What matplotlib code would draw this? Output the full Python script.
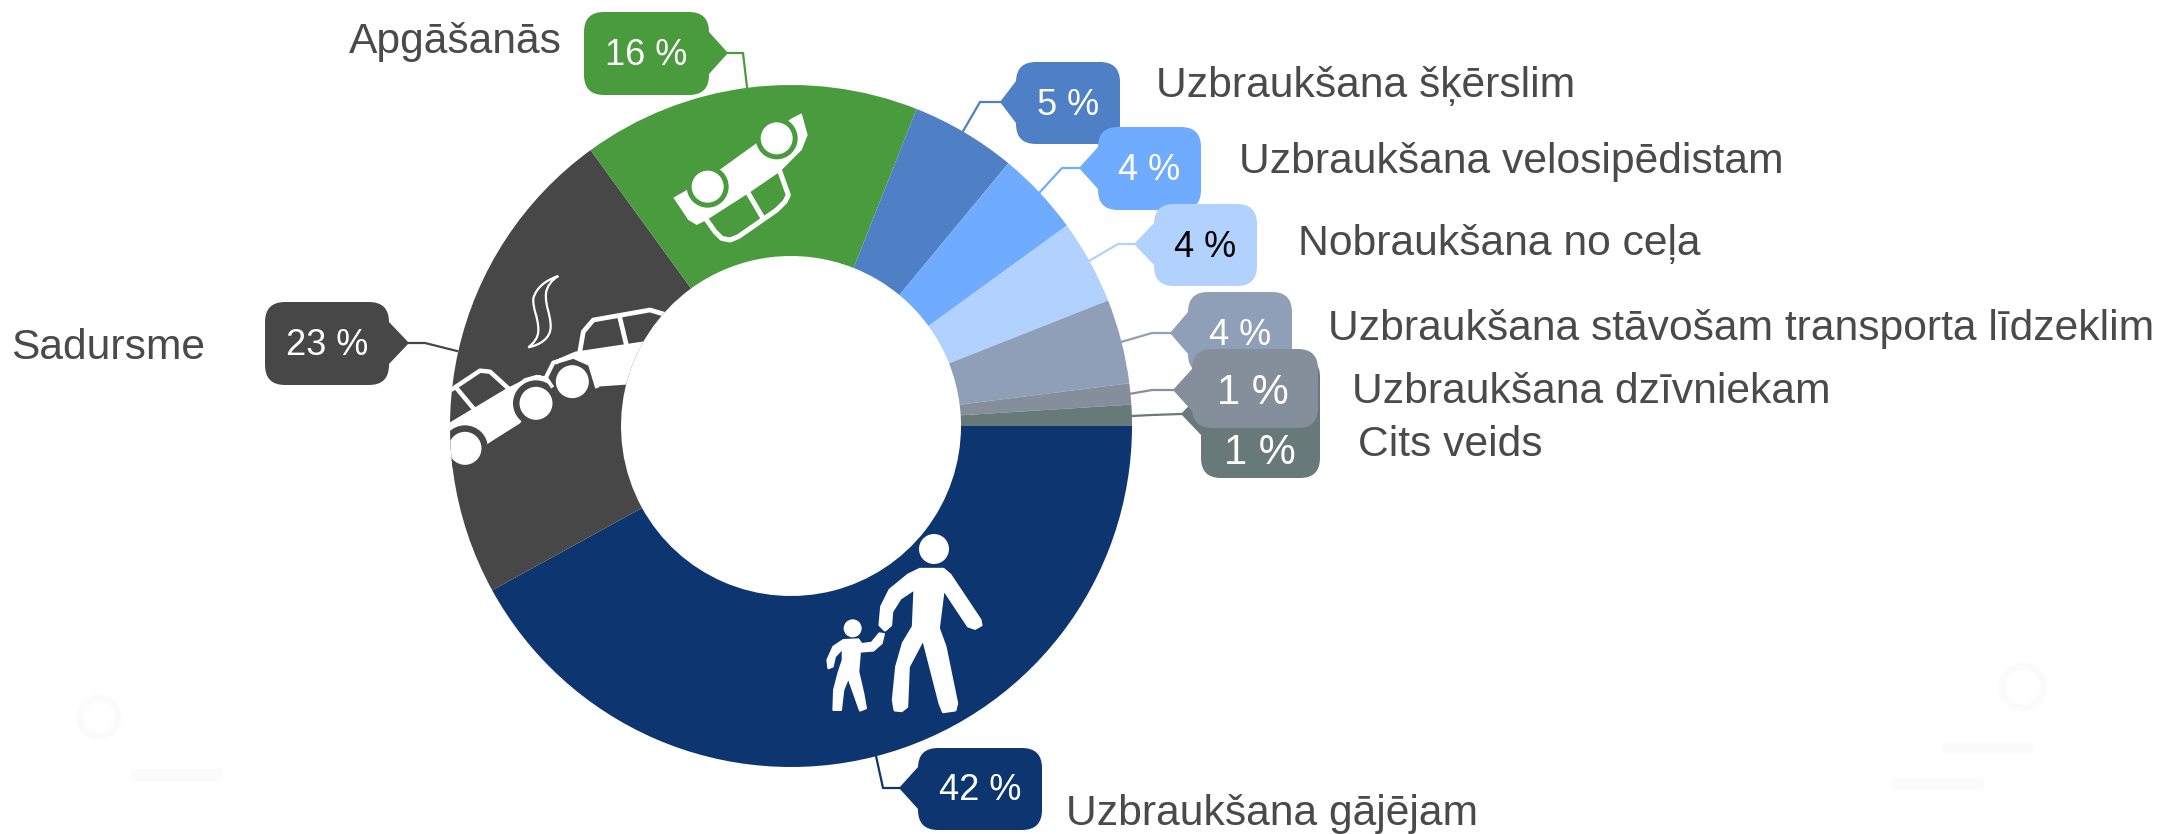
import matplotlib
matplotlib.use("Agg")
import matplotlib.pyplot as plt
from matplotlib.patches import Circle, FancyBboxPatch, PathPatch, Polygon, Rectangle
from matplotlib.path import Path

plt.rcParams["font.family"] = ["Liberation Sans", "DejaVu Sans"]

# chart data
categories = ["Uzbraukšana gājējam", "Sadursme", "Apgāšanās", "Uzbraukšana šķērslim",
              "Uzbraukšana velosipēdistam", "Nobraukšana no ceļa",
              "Uzbraukšana stāvošam transporta līdzeklim", "Uzbraukšana dzīvniekam", "Cits veids"]
values = [42, 23, 16, 5, 4, 4, 4, 1, 1]
colors = ["#0d3570", "#474747", "#4a9a3e", "#4f80c6", "#6fabff", "#b1d1ff", "#8f9fb8", "#858e9b", "#68797a"]
pct_colors = ["white", "white", "white", "white", "white", "black", "white", "white", "white"]

W, H = 2164, 834
CX, CY, R_OUT, R_IN = 791, 426, 341, 170

# layout in image pixels: box x0, x1, y0, y1, tip x, tip y, then the leader points
callouts = [
    (918, 1042, 748, 830, 899, 788, [(883, 788), (876, 756)]),
    (265, 389, 302, 385, 409, 343, [(425, 343), (457, 351)]),
    (584, 709, 12, 95, 728, 53, [(743, 53), (747, 87)]),
    (1016, 1120, 62, 144, 1000, 102, [(980, 102), (962, 133)]),
    (1098, 1201, 127, 210, 1079, 168, [(1062, 168), (1040, 192)]),
    (1154, 1257, 204, 286, 1134, 244, [(1118, 244), (1089, 261)]),
    (1188, 1292, 292, 374, 1170, 333, [(1152, 333), (1121, 342)]),
    (1192, 1318, 349, 428, 1173, 390, [(1152, 390), (1129, 394)]),
    (1201, 1320, 357, 478, 1181, 414, [(1152, 415), (1132, 416)]),
]
label_pos = [(1066, 814), (11, 348), (349, 42), (1156, 86), (1239, 162),
             (1298, 244), (1328, 329), (1352, 392), (1358, 445)]
draw_order = [0, 1, 2, 3, 4, 5, 6, 8, 7]


def flip(p):
    return [(x, H - y) for x, y in p]


def zoomed(p, x0, y0):
    return [(x0 + zx / 3, H - (y0 + zy / 3)) for zx, zy in p]


def zoom_xy(zx, zy, x0, y0):
    return x0 + zx / 3, H - (y0 + zy / 3)


fig = plt.figure(figsize=(W / 100, H / 100), dpi=100, facecolor="white")
ax = fig.add_axes([0, 0, 1, 1])

wedges, _ = ax.pie(values, colors=colors, startangle=0, counterclock=False,
                   center=(CX, H - CY), radius=R_OUT,
                   wedgeprops={"width": R_OUT - R_IN, "linewidth": 0})
ax.set_xlim(0, W)
ax.set_ylim(0, H)
ax.set_aspect("equal")
ax.axis("off")

# faint leftovers near the corners
ghost = "#fbfbfb"
ax.add_patch(Circle((99, H - 717), 19, fc="none", ec=ghost, lw=5))
ax.add_patch(Circle((2023, H - 687), 21, fc="none", ec=ghost, lw=5))
for x0, x1, y0, y1 in [(131, 223, 769, 781), (1942, 2033, 742, 753), (1892, 1983, 778, 790)]:
    ax.add_patch(Rectangle((x0, H - y1), x1 - x0, y1 - y0, fc=ghost, ec="none"))

# pedestrians
NAVY, DARK, GREEN = colors[0], colors[1], colors[2]
px, py = 780, 500
adult = [(420, 208), (490, 208), (510, 225), (600, 360), (603, 375), (585, 385), (565, 378), (490, 265),
         (475, 385), (495, 440), (530, 610), (525, 630), (490, 635), (480, 610), (430, 415), (385, 500),
         (380, 620), (365, 632), (345, 630), (340, 600), (350, 500), (370, 430), (400, 380), (405, 265),
         (360, 295), (335, 335), (332, 375), (315, 390), (300, 375), (305, 320), (330, 270), (385, 225)]
child = [(190, 420), (235, 418), (245, 432), (275, 428), (298, 400), (312, 402), (305, 430), (280, 452),
         (240, 455), (235, 515), (250, 580), (258, 625), (240, 632), (225, 590), (205, 533), (190, 570),
         (183, 630), (160, 630), (162, 570), (175, 520), (188, 480), (188, 445), (165, 470), (158, 500),
         (145, 505), (142, 480), (160, 440)]
ax.add_patch(Polygon(zoomed(adult, px, py), fc="white", ec="white", lw=2.2, joinstyle="round", zorder=3))
ax.add_patch(Polygon(zoomed(child, px, py), fc="white", ec="white", lw=1.4, joinstyle="round", zorder=3))
ax.add_patch(Circle(zoom_xy(462, 147, px, py), 15, fc="white", ec="none", zorder=3))
ax.add_patch(Circle(zoom_xy(218, 385, px, py), 9, fc="white", ec="none", zorder=3))

# overturned car
gx, gy = 660, 100
body = [(40, 293), (72, 275), (185, 205), (275, 140), (395, 55), (425, 40), (443, 105), (425, 150), (385, 190),
        (360, 215), (265, 280), (140, 360), (110, 375), (85, 360)]
ax.add_patch(Polygon(zoomed(body, gx, gy), fc="white", ec="none", zorder=3))
for zx, zy in [(143, 260), (350, 115)]:
    ax.add_patch(Circle(zoom_xy(zx, zy, gx, gy), 21, fc=GREEN, ec="none", zorder=4))
    ax.add_patch(Circle(zoom_xy(zx, zy, gx, gy), 16, fc="white", ec="none", zorder=5))
roof = [(140, 360), (165, 395), (185, 415), (210, 420), (235, 410), (350, 330), (375, 305), (385, 285), (360, 215)]
ax.plot(*zip(*zoomed(roof, gx, gy)), color="white", lw=3.6, solid_joinstyle="round", zorder=3)
ax.plot(*zip(*zoomed([(265, 280), (305, 348)], gx, gy)), color="white", lw=3.6, zorder=3)

# two cars and the smoke, cut off by the dark slice
cx, cy = 440, 260
clip = wedges[1]
shapes = []
shapes.append(ax.add_patch(Polygon(zoomed([(0, 505), (100, 445), (200, 385), (240, 365), (300, 345), (330, 370),
                                           (240, 490), (145, 550), (100, 600), (0, 600)], cx, cy),
                                   fc="white", ec="none", zorder=3)))
shapes.append(ax.add_patch(Polygon(zoomed([(335, 305), (405, 275), (640, 240), (760, 240), (760, 360), (470, 380),
                                           (400, 340)], cx, cy), fc="white", ec="none", zorder=3)))
for zx, zy in [(75, 565), (288, 430), (397, 365)]:
    shapes.append(ax.add_patch(Circle(zoom_xy(zx, zy, cx, cy), 23, fc=DARK, ec="none", zorder=4)))
    shapes.append(ax.add_patch(Circle(zoom_xy(zx, zy, cx, cy), 16.5, fc="white", ec="none", zorder=6)))
strokes = [
    ([(25, 395), (60, 372), (120, 332), (150, 335), (205, 385)], 3.2),
    ([(50, 385), (100, 445)], 3.2),
    ([(420, 272), (430, 215), (460, 180), (630, 150), (680, 165)], 3.4),
    ([(540, 175), (558, 250)], 3.4),
    ([(225, 385), (255, 360), (290, 350), (320, 355), (335, 378)], 2.6),
    ([(318, 352), (340, 308), (400, 290), (450, 312), (470, 378)], 3.0),
]
for line, lw in strokes:
    shapes.extend(ax.plot(*zip(*zoomed(line, cx, cy)), color="white", lw=lw, solid_joinstyle="round", zorder=5))
smoke = [(355, 48), (320, 60), (290, 80), (280, 115), (278, 150), (295, 170), (295, 210), (295, 235), (280, 250),
         (265, 262), (300, 255), (332, 235), (332, 200), (332, 160), (315, 140), (318, 100), (320, 80), (335, 60),
         (355, 48)]
smoke_path = Path(zoomed(smoke, cx, cy), [Path.MOVETO] + [Path.CURVE4] * (len(smoke) - 1))
shapes.append(ax.add_patch(PathPatch(smoke_path, fc="none", ec="white", lw=1.6, zorder=5)))
for s in shapes:
    s.set_clip_path(clip)

# callouts
for i in draw_order:
    x0, x1, y0, y1, tx, ty, leader = callouts[i]
    c = colors[i]
    line = [(tx, ty)] + leader
    ax.plot(*zip(*flip(line)), color=c, lw=1.6, zorder=7 + i * 0.1)
    ax.add_patch(FancyBboxPatch((x0, H - y1), x1 - x0, y1 - y0, boxstyle="round,pad=0,rounding_size=20",
                                fc=c, ec="none", zorder=8 + draw_order.index(i)))
    side = x0 if tx < x0 else x1
    ax.add_patch(Polygon(flip([(side, ty - 21), (tx, ty), (side, ty + 21)]), fc=c, ec="none",
                         zorder=8 + draw_order.index(i)))
    if i < 7:
        ty_txt = (y0 + y1) / 2 + 2
        tx_txt = (x0 + x1) / 2
        fs = 26
    elif i == 7:
        ty_txt, tx_txt, fs = 393, 1253, 30
    else:
        ty_txt, tx_txt, fs = 453, 1260, 30
    ax.text(tx_txt, H - ty_txt, f"{values[i]} %", color=pct_colors[i], fontsize=fs, ha="center", va="center",
            zorder=8.5 + draw_order.index(i))

for name, (lx, ly) in zip(categories, label_pos):
    ax.text(lx, H - ly, name, color="#4a4a4a", fontsize=30.7, ha="left", va="center", zorder=30)

fig.savefig("out.png", dpi=100, facecolor="white")
